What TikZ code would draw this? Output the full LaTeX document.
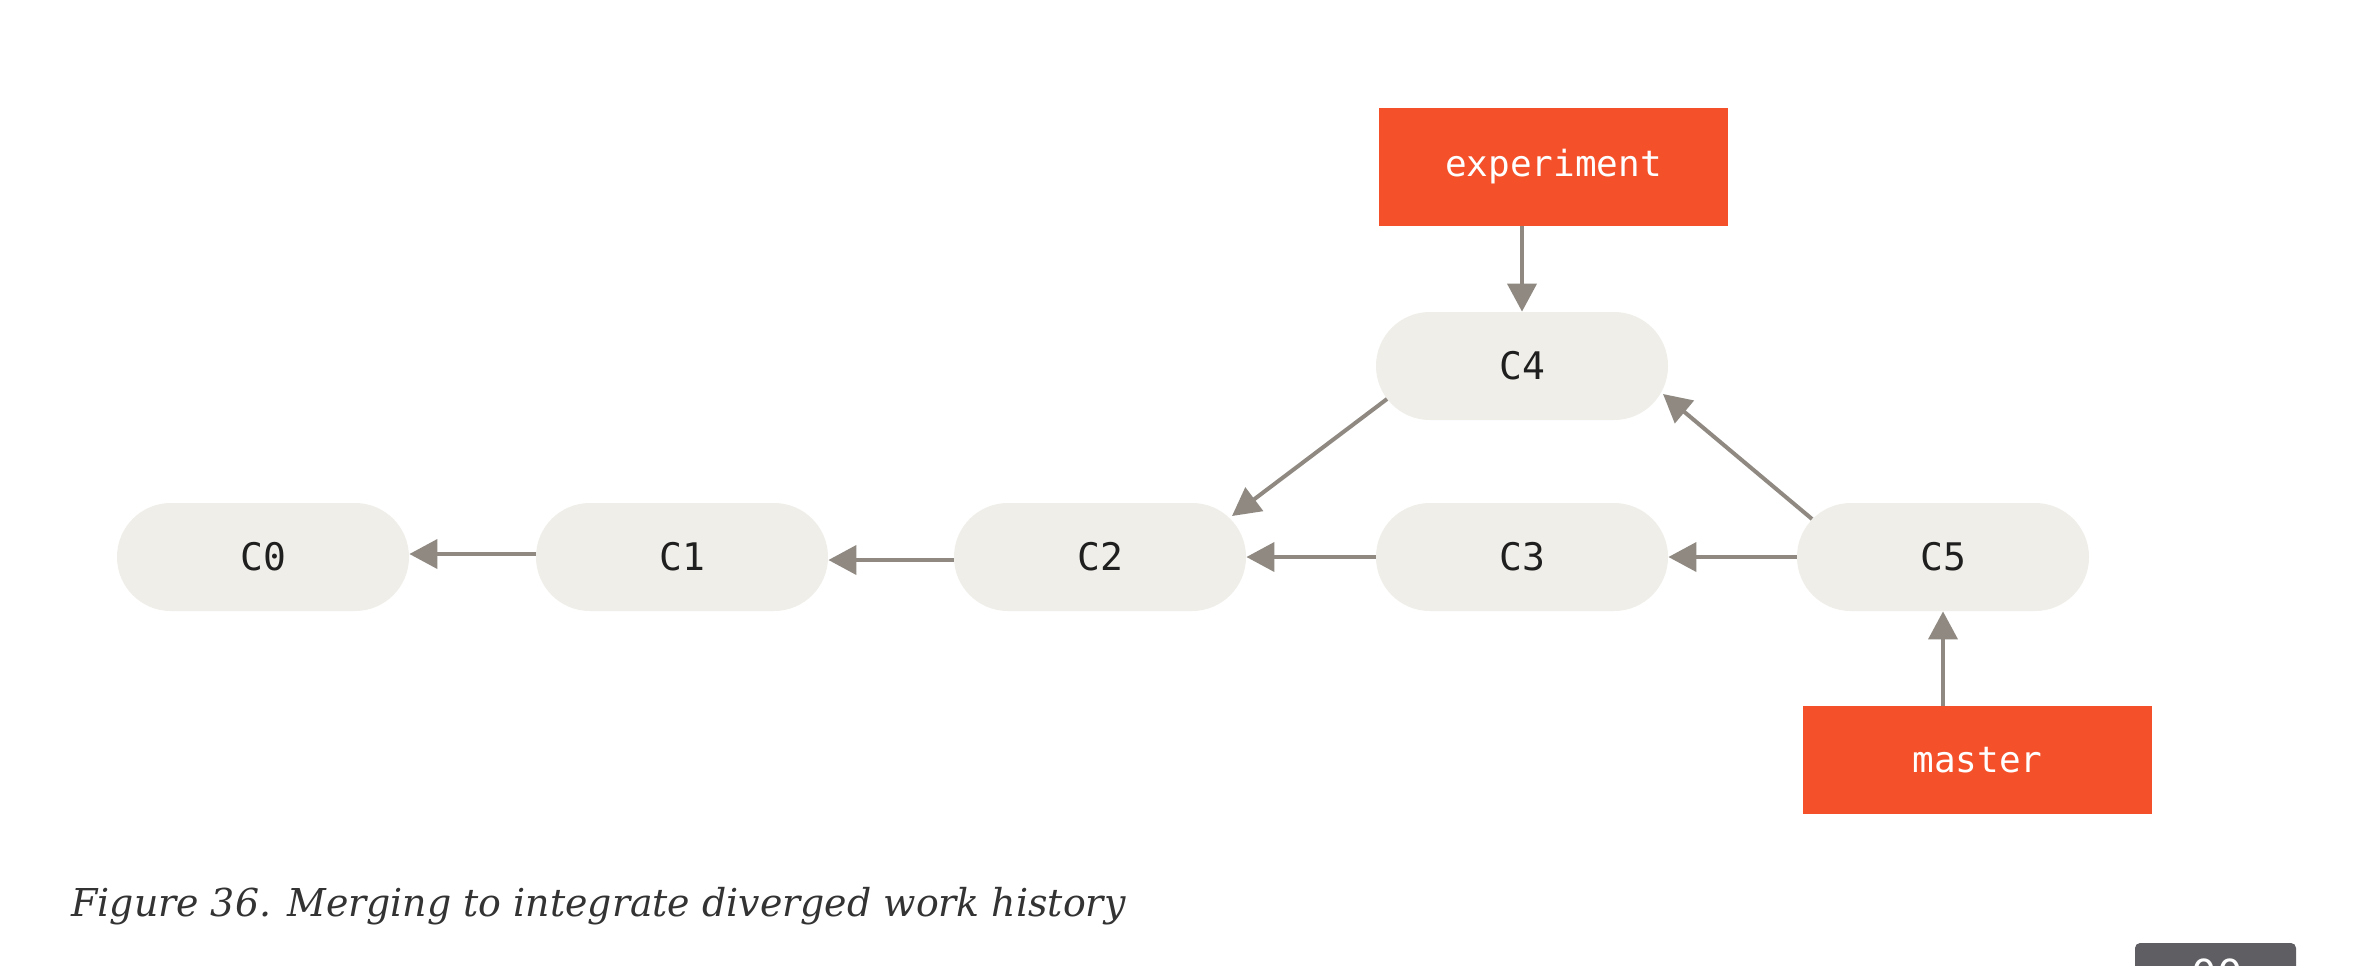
\documentclass[tikz,border=0pt]{standalone}
\usepackage{fontspec}
\setmainfont{DejaVu Serif}
\setmonofont{DejaVu Sans Mono}
\newfontfamily\capfont{DejaVu Serif}
\newfontfamily\btnfont{DejaVu Sans}
\usetikzlibrary{arrows.meta}
\definecolor{gitorange}{RGB}{244,80,42}
\definecolor{commitfill}{RGB}{239,238,232}
\definecolor{arrowgray}{RGB}{143,137,130}
\definecolor{captext}{RGB}{51,51,51}
\definecolor{btngray}{RGB}{95,94,99}
\tikzset{
  commit/.style={draw=none, fill=commitfill, rounded corners=27pt, minimum width=146pt, minimum height=54pt, inner sep=0pt, font=\ttfamily\fontsize{19}{19}\selectfont, text=black!88},
  branch/.style={draw=none, fill=gitorange, minimum width=174.5pt, inner sep=0pt, font=\ttfamily\fontsize{18}{18}\selectfont, text=white},
  parent/.style={draw=arrowgray, line width=2pt, -{Triangle[length=14pt,width=14.5pt]}},
}
\begin{document}
\begin{tikzpicture}[x=0.5pt,y=-0.5pt]
\useasboundingbox (0,0) rectangle (2360,965);
\fill[white] (0,0) rectangle (2360,965);
\clip (0,0) rectangle (2360,965);
% commits
\node[commit] (C0) at (263,557) {C0};
\node[commit] (C1) at (682,557) {C1};
\node[commit] (C2) at (1100,557) {C2};
\node[commit] (C3) at (1522,557) {C3};
\node[commit] (C4) at (1522,366) {C4};
\node[commit] (C5) at (1943,557) {C5};
% branches
\node[branch, minimum height=59pt] (exp) at (1553.5,167) {experiment};
\node[branch, minimum height=54pt] (master) at (1977.5,760) {master};
% connectors
\draw[parent] ([shift={(0,-3)}]C1.west) -- ([shift={(0,-3)}]C0.east);
\draw[parent] ([shift={(0,3)}]C2.west) -- ([shift={(0,3)}]C1.east);
\draw[parent] (C3.west) -- (C2.east);
\draw[parent] (C5.west) -- (C3.east);
\draw[parent] ([shift={(-135,33)}]C4.center) -- ([shift={(132,-41)}]C2.center);
\draw[parent] ([shift={(-131,-38)}]C5.center) -- ([shift={(141,28)}]C4.center);
\draw[parent] (C4.north |- exp.south) -- (C4.north);
\draw[parent] (C5.south |- master.north) -- (C5.south);
% caption
\node[anchor=base west, inner sep=0pt, text=captext, font=\capfont\itshape\fontsize{19.2}{19.2}\selectfont] (cap) at (71,916) {\resizebox{527pt}{\height}{Figure 36. Merging to integrate diverged work history}};
% cut-off button
\fill[btngray, rounded corners=2.5pt] (2135,943) rectangle (2296,1000);
\node[anchor=base, inner sep=0pt, text=white, font=\btnfont\fontsize{20}{20}\selectfont] (btn) at (2217,988) {00};
\end{tikzpicture}
\end{document}
